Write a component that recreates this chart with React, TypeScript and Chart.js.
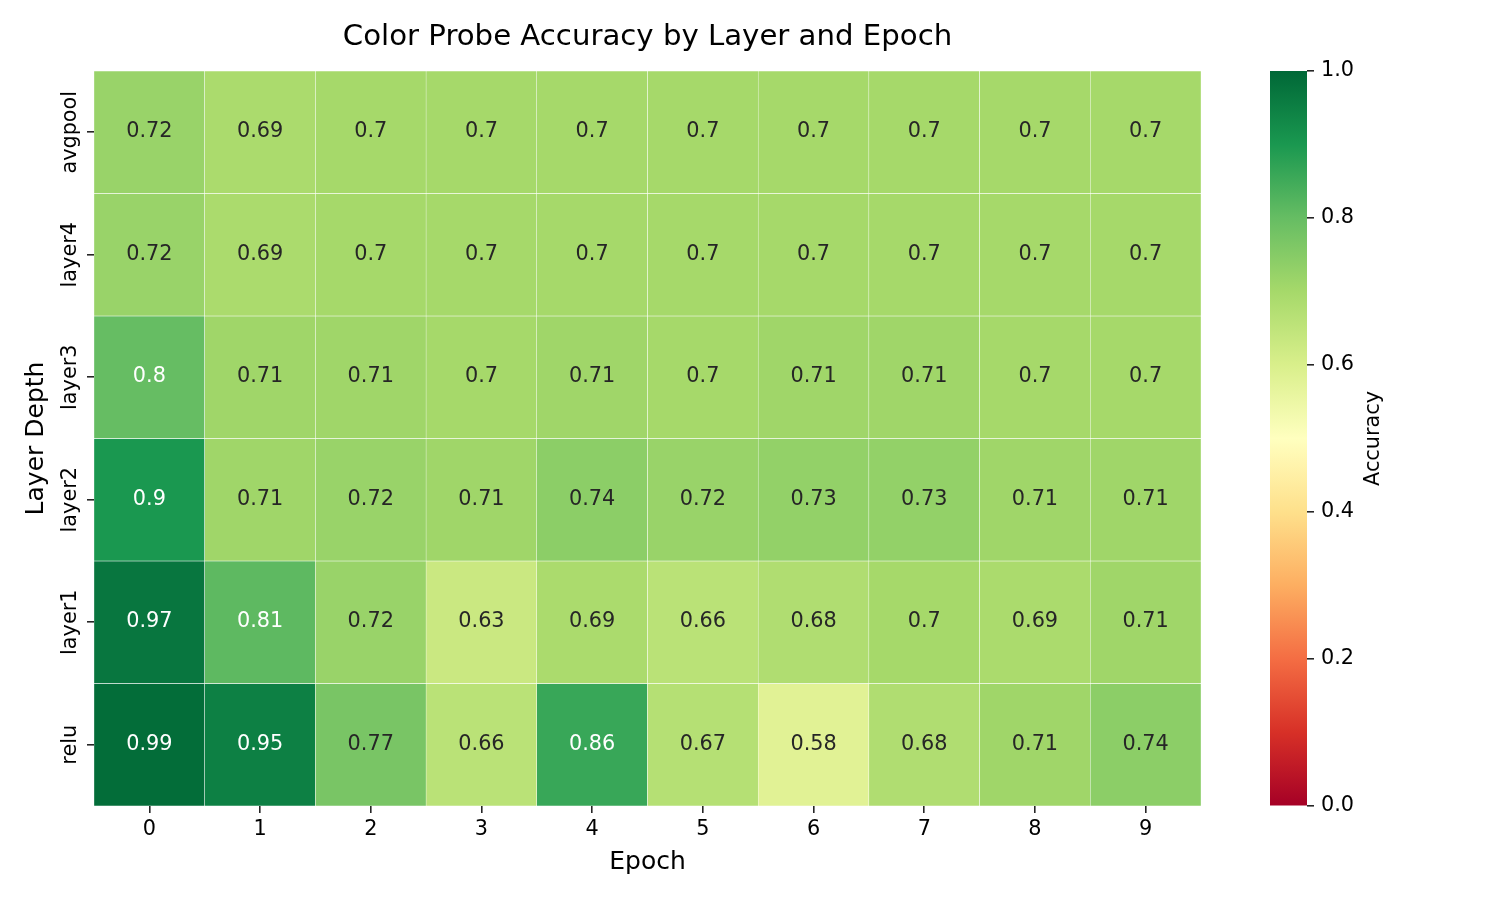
import React, { useEffect, useRef } from "react";
import { Chart, registerables } from "chart.js";

Chart.register(...registerables);

const chartTitle = "Color Probe Accuracy by Layer and Epoch";
const xAxisLabel = "Epoch";
const yAxisLabel = "Layer Depth";
const colorbarLabel = "Accuracy";

const epochs = ["0", "1", "2", "3", "4", "5", "6", "7", "8", "9"];
const layers = ["avgpool", "layer4", "layer3", "layer2", "layer1", "relu"];

const accAvgpool = [0.72, 0.69, 0.7, 0.7, 0.7, 0.7, 0.7, 0.7, 0.7, 0.7];
const accLayer4 = [0.72, 0.69, 0.7, 0.7, 0.7, 0.7, 0.7, 0.7, 0.7, 0.7];
const accLayer3 = [0.8, 0.71, 0.71, 0.7, 0.71, 0.7, 0.71, 0.71, 0.7, 0.7];
const accLayer2 = [0.9, 0.71, 0.72, 0.71, 0.74, 0.72, 0.73, 0.73, 0.71, 0.71];
const accLayer1 = [0.97, 0.81, 0.72, 0.63, 0.69, 0.66, 0.68, 0.7, 0.69, 0.71];
const accRelu = [0.99, 0.95, 0.77, 0.66, 0.86, 0.67, 0.58, 0.68, 0.71, 0.74];

const colorbarTicks = [0, 0.2, 0.4, 0.6, 0.8, 1.0];

const rdylgnStops = [
  "#a50026", "#d73027", "#f46d43", "#fdae61", "#fee08b", "#ffffbf",
  "#d9ef8b", "#a6d96a", "#66bd63", "#1a9850", "#006837",
];

const rows = [accAvgpool, accLayer4, accLayer3, accLayer2, accLayer1, accRelu];

const FONT = "'DejaVu Sans', sans-serif";

function hexToRgb(h: string): number[] {
  return [parseInt(h.slice(1, 3), 16), parseInt(h.slice(3, 5), 16), parseInt(h.slice(5, 7), 16)];
}

function cmapRgb(t: number): number[] {
  const c = Math.max(0, Math.min(1, t)) * (rdylgnStops.length - 1);
  const i = Math.min(Math.floor(c), rdylgnStops.length - 2);
  const f = c - i;
  const a = hexToRgb(rdylgnStops[i]);
  const b = hexToRgb(rdylgnStops[i + 1]);
  return [0, 1, 2].map((k) => a[k] + (b[k] - a[k]) * f);
}

function cmap(t: number): string {
  const [r, g, b] = cmapRgb(t);
  return `rgb(${Math.round(r)},${Math.round(g)},${Math.round(b)})`;
}

function textColorFor(v: number): string {
  const lin = cmapRgb(v).map((c) => {
    const s = c / 255;
    return s <= 0.03928 ? s / 12.92 : Math.pow((s + 0.055) / 1.055, 2.4);
  });
  const lum = 0.2126 * lin[0] + 0.7152 * lin[1] + 0.0722 * lin[2];
  return lum > 0.408 ? "#262626" : "#ffffff";
}

const textPlugin = {
  id: "heatmapText",
  afterDraw(chart: any) {
    const ctx = chart.ctx;
    const { left, right, top, bottom } = chart.chartArea;
    ctx.save();
    // cell annotations
    chart.data.datasets.forEach((_ds: any, r: number) => {
      const meta = chart.getDatasetMeta(r);
      meta.data.forEach((el: any, j: number) => {
        const v = rows[r][j];
        const p = el.getProps(["x", "y", "base"], true);
        ctx.fillStyle = textColorFor(v);
        ctx.font = `20.8px ${FONT}`;
        ctx.textAlign = "center";
        ctx.textBaseline = "alphabetic";
        ctx.fillText(String(v), p.x, (p.y + p.base) / 2 + 5.1);
      });
    });
    // row labels
    const ys = chart.scales.y;
    ctx.fillStyle = "#000";
    ctx.font = `20.8px ${FONT}`;
    layers.forEach((name, i) => {
      const yc = ys.getPixelForValue(i + 0.5);
      ctx.save();
      ctx.translate(left - 18, yc);
      ctx.rotate(-Math.PI / 2);
      ctx.textAlign = "center";
      ctx.textBaseline = "alphabetic";
      ctx.fillText(name, 0, 0);
      ctx.restore();
    });
    // title
    ctx.font = `29.2px ${FONT}`;
    ctx.textAlign = "center";
    ctx.textBaseline = "alphabetic";
    ctx.fillText(chartTitle, (left + right) / 2, top - 26);
    // x axis label
    ctx.font = `25px ${FONT}`;
    ctx.fillText(xAxisLabel, (left + right) / 2, bottom + 63);
    // y axis label
    ctx.save();
    ctx.translate(left - 51.5, (top + bottom) / 2);
    ctx.rotate(-Math.PI / 2);
    ctx.fillText(yAxisLabel, 0, 0);
    ctx.restore();
    ctx.restore();
  },
};

const cbarTextPlugin = {
  id: "cbarText",
  afterDraw(chart: any) {
    const ctx = chart.ctx;
    const { right, top, bottom } = chart.chartArea;
    ctx.save();
    ctx.fillStyle = "#000";
    ctx.font = `20.8px ${FONT}`;
    ctx.translate(right + 71.5, (top + bottom) / 2);
    ctx.rotate(-Math.PI / 2);
    ctx.textAlign = "center";
    ctx.textBaseline = "alphabetic";
    ctx.fillText(colorbarLabel, 0, 0);
    ctx.restore();
  },
};

export default function App() {
  const mainRef = useRef<HTMLCanvasElement | null>(null);
  const cbarRef = useRef<HTMLCanvasElement | null>(null);

  useEffect(() => {
    const tickGrid = {
      display: true,
      drawOnChartArea: false,
      drawTicks: true,
      tickLength: 7,
      offset: false,
      color: "#262626",
      lineWidth: 1.6,
    };

    const main = new Chart(mainRef.current as HTMLCanvasElement, {
      type: "bar",
      data: {
        labels: epochs,
        datasets: rows.map((vals, r) => ({
          label: layers[r],
          data: vals.map(() => [r, r + 1]),
          backgroundColor: vals.map((v) => cmap(v)),
          borderColor: "#ffffff",
          borderWidth: 0.5,
          borderSkipped: false,
          grouped: false,
          barPercentage: 1,
          categoryPercentage: 1,
        })) as any,
      },
      options: {
        responsive: false,
        animation: false,
        devicePixelRatio: 1,
        layout: { padding: { top: 71, right: 299, bottom: 0, left: 0 } },
        plugins: {
          legend: { display: false },
          tooltip: { enabled: false },
          title: { display: false },
        },
        scales: {
          x: {
            type: "category",
            offset: true,
            grid: tickGrid,
            border: { display: false },
            ticks: {
              font: { family: FONT, size: 20.8 },
              color: "#000",
              padding: 4.5,
              maxRotation: 0,
              autoSkip: false,
            },
            afterFit: (s: any) => {
              s.height = 94;
            },
          },
          y: {
            type: "linear",
            min: 0,
            max: 6,
            reverse: true,
            afterBuildTicks: (s: any) => {
              s.ticks = layers.map((_n, i) => ({ value: i + 0.5 }));
            },
            grid: tickGrid,
            border: { display: false },
            ticks: { callback: () => "" },
            afterFit: (s: any) => {
              s.width = 94;
            },
          },
        },
      } as any,
      plugins: [textPlugin],
    });

    const cbar = new Chart(cbarRef.current as HTMLCanvasElement, {
      type: "bar",
      data: {
        labels: [colorbarLabel],
        datasets: [
          {
            data: [[colorbarTicks[0], colorbarTicks[colorbarTicks.length - 1]]],
            backgroundColor: (c: any) => {
              const ch = c.chart;
              const ys = ch.scales && ch.scales.y;
              if (!ch.chartArea || !ys) return cmap(0.5);
              const g = ch.ctx.createLinearGradient(0, ys.getPixelForValue(0), 0, ys.getPixelForValue(1));
              rdylgnStops.forEach((s, i) => g.addColorStop(i / (rdylgnStops.length - 1), s));
              return g;
            },
            borderWidth: 0,
            barPercentage: 1,
            categoryPercentage: 1,
          },
        ] as any,
      },
      options: {
        responsive: false,
        animation: false,
        devicePixelRatio: 1,
        layout: { padding: { top: 71, right: 0, bottom: 94, left: 70 } },
        plugins: {
          legend: { display: false },
          tooltip: { enabled: false },
          title: { display: false },
        },
        scales: {
          x: { display: false, offset: true },
          y: {
            position: "right",
            min: 0,
            max: 1,
            afterBuildTicks: (s: any) => {
              s.ticks = colorbarTicks.map((v) => ({ value: v }));
            },
            ticks: {
              callback: (v: any) => Number(v).toFixed(1),
              font: { family: FONT, size: 20.8 },
              color: "#000",
              padding: 7,
            },
            grid: {
              drawOnChartArea: false,
              drawTicks: true,
              tickLength: 7,
              color: "#262626",
              lineWidth: 1.6,
            },
            border: { display: false },
            afterFit: (s: any) => {
              s.width = 193;
            },
          },
        },
      } as any,
      plugins: [cbarTextPlugin],
    });

    return () => {
      main.destroy();
      cbar.destroy();
    };
  }, []);

  return (
    <div style={{ position: "absolute", left: 0, top: 0, width: 1500, height: 900, background: "#ffffff" }}>
      <canvas ref={mainRef} width={1500} height={900} style={{ position: "absolute", left: 0, top: 0 }} />
      <canvas ref={cbarRef} width={300} height={900} style={{ position: "absolute", left: 1200, top: 0 }} />
    </div>
  );
}
